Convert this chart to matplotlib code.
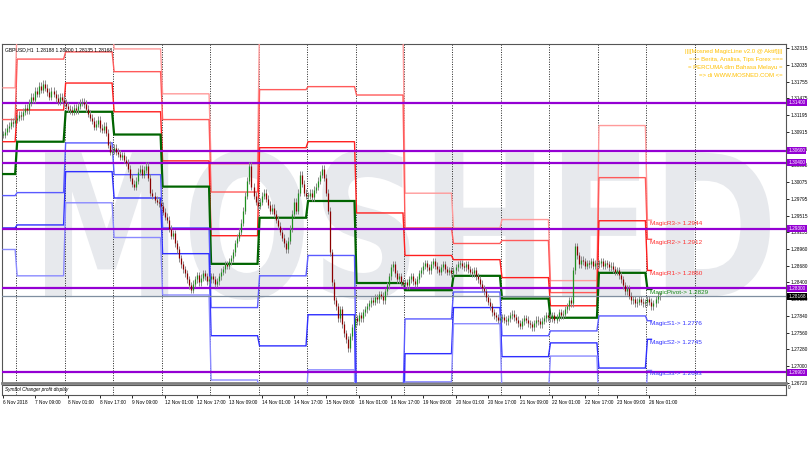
import matplotlib
matplotlib.use("Agg")
import matplotlib.pyplot as plt
from matplotlib.textpath import TextPath
from matplotlib.patches import PathPatch
from matplotlib.font_manager import FontProperties
from matplotlib.transforms import Affine2D, IdentityTransform, blended_transform_factory

# hourly closes, GBPUSD H1, 6 Nov 17:00 -> 26 Nov 06:00
closes = [
    1.3087, 1.3092, 1.3098, 1.3102, 1.3108, 1.3106, 1.3112,
    1.3115, 1.3120, 1.3118, 1.3125, 1.3132, 1.3128, 1.3140, 1.3150, 1.3145, 1.3160, 1.3155, 1.3168,
    1.3162, 1.3172, 1.3165, 1.3158, 1.3150, 1.3160, 1.3155, 1.3148, 1.3142, 1.3150, 1.3145, 1.3140,
    1.3135, 1.3130, 1.3128, 1.3125, 1.3132, 1.3128, 1.3135, 1.3140, 1.3142, 1.3138, 1.3130, 1.3122,
    1.3115, 1.3110, 1.3100, 1.3105, 1.3112, 1.3098, 1.3095, 1.3102, 1.3090, 1.3070, 1.3058, 1.3060,
    1.3065, 1.3058, 1.3055, 1.3050, 1.3052, 1.3045, 1.3040, 1.3030, 1.3015, 1.3005, 1.3000, 1.3010,
    1.3025, 1.3030, 1.3020, 1.3028, 1.3035, 1.3015, 1.2990, 1.2985, 1.2978, 1.2975, 1.2972, 1.2968,
    1.2958, 1.2950, 1.2945, 1.2930, 1.2918, 1.2922, 1.2905, 1.2895, 1.2880, 1.2870, 1.2862, 1.2855,
    1.2845, 1.2835, 1.2828, 1.2838, 1.2845, 1.2852, 1.2840, 1.2848, 1.2855, 1.2850, 1.2842, 1.2845,
    1.2850, 1.2845, 1.2838, 1.2842, 1.2850, 1.2858, 1.2862, 1.2870, 1.2868, 1.2875, 1.2880, 1.2890,
    1.2905, 1.2915, 1.2925, 1.2940, 1.2960, 1.2985, 1.3010, 1.3035, 1.3000, 1.2985, 1.2975, 1.2968,
    1.2975, 1.2985, 1.2990, 1.2980, 1.2970, 1.2960, 1.2965, 1.2955, 1.2945, 1.2935, 1.2925, 1.2915,
    1.2905, 1.2895, 1.2910, 1.2930, 1.2955, 1.2975, 1.2960, 1.2990, 1.3020, 1.3005, 1.2990, 1.2985,
    1.2985, 1.2990, 1.2982, 1.2995, 1.3000, 1.3010, 1.3020, 1.3030, 1.3015, 1.2990, 1.2960, 1.2890,
    1.2840, 1.2810, 1.2800, 1.2780, 1.2795, 1.2770, 1.2755, 1.2745, 1.2730, 1.2750, 1.2765, 1.2780,
    1.2775, 1.2785, 1.2780, 1.2790, 1.2795, 1.2800, 1.2805, 1.2810, 1.2808, 1.2815, 1.2812, 1.2820,
    1.2818, 1.2810, 1.2825, 1.2835, 1.2850, 1.2865, 1.2870, 1.2855, 1.2845, 1.2850, 1.2840, 1.2838,
    1.2840, 1.2835, 1.2845, 1.2850, 1.2842, 1.2838, 1.2845, 1.2855, 1.2860, 1.2868, 1.2872, 1.2865,
    1.2860, 1.2870, 1.2875, 1.2868, 1.2862, 1.2858, 1.2865, 1.2870, 1.2862, 1.2858, 1.2860, 1.2855,
    1.2860, 1.2865, 1.2870, 1.2872, 1.2868, 1.2865, 1.2870, 1.2862, 1.2858, 1.2855, 1.2860, 1.2850,
    1.2845, 1.2838, 1.2830, 1.2825, 1.2815, 1.2808, 1.2800, 1.2790, 1.2785, 1.2782, 1.2778, 1.2780,
    1.2782, 1.2778, 1.2775, 1.2780, 1.2785, 1.2788, 1.2782, 1.2778, 1.2772, 1.2768, 1.2775, 1.2780,
    1.2778, 1.2772, 1.2770, 1.2765, 1.2772, 1.2778, 1.2775, 1.2770, 1.2776, 1.2780, 1.2785, 1.2782,
    1.2780, 1.2785, 1.2778, 1.2782, 1.2790, 1.2785, 1.2788, 1.2795, 1.2800, 1.2810, 1.2805, 1.2860,
    1.2900, 1.2885, 1.2870, 1.2878, 1.2875, 1.2868, 1.2872, 1.2870, 1.2875, 1.2868, 1.2872, 1.2870,
    1.2872, 1.2875, 1.2868, 1.2872, 1.2870, 1.2865, 1.2868, 1.2862, 1.2858, 1.2860, 1.2852, 1.2845,
    1.2835, 1.2825, 1.2830, 1.2818, 1.2810, 1.2812, 1.2805, 1.2808, 1.2812, 1.2808, 1.2805, 1.2807,
    1.2812, 1.2808, 1.2800, 1.2805, 1.2812, 1.2818, 1.28168,
]

# first bar of each trading day (6 Nov partial, then 7..23 Nov, 26 Nov)
day_starts = [0, 7, 31, 55, 79, 103, 127, 151, 175, 199, 223, 247, 271, 295, 319]

# daily MagicLine levels, one value per day
r3 = [1.3165, 1.3267, 1.3274, 1.3230, 1.3155, 1.3038, 1.3279, 1.3265, 1.3270, 1.2989, 1.2931, 1.2945, 1.2843, 1.3102, 1.2944]
r2 = [1.3112, 1.3213, 1.3225, 1.3192, 1.3112, 1.2991, 1.3162, 1.3167, 1.3153, 1.2931, 1.2905, 1.2910, 1.2823, 1.3015, 1.2912]
r1 = [1.3075, 1.3128, 1.3173, 1.3125, 1.3043, 1.2918, 1.3065, 1.3075, 1.2956, 1.2885, 1.2878, 1.2848, 1.2801, 1.2943, 1.2860]
pv = [1.3021, 1.3075, 1.3125, 1.3087, 1.3000, 1.2871, 1.2948, 1.2976, 1.2839, 1.2827, 1.2851, 1.2813, 1.2781, 1.2856, 1.2829]
s1 = [1.2985, 1.2990, 1.3073, 1.3020, 1.2931, 1.2798, 1.2851, 1.2885, 1.2642, 1.2779, 1.2824, 1.2751, 1.2759, 1.2784, 1.2776]
s2 = [1.2931, 1.2936, 1.3025, 1.2981, 1.2888, 1.2751, 1.2734, 1.2786, 1.2525, 1.2721, 1.2798, 1.2716, 1.2739, 1.2697, 1.2745]
s3 = [1.2895, 1.2851, 1.2973, 1.2915, 1.2819, 1.2677, 1.2637, 1.2694, 1.2415, 1.2674, 1.2771, 1.2654, 1.2717, 1.2626, 1.2693]

level_names = ["MagicR3", "MagicR2", "MagicR1", "MagicPivot", "MagicS1", "MagicS2", "MagicS3"]

purple_levels = [1.3140, 1.3060, 1.3040, 1.2930, 1.2830, 1.2690]
purple_labels = ["1.31400", "1.30600", "1.30400", "1.29300", "1.28300", "1.26900"]
bid = 1.28168

ytick_vals = [1.26720, 1.27000, 1.27280, 1.27560, 1.27840, 1.28120, 1.28400, 1.28680, 1.28960, 1.29235,
              1.29515, 1.29795, 1.30075, 1.30355, 1.30635, 1.30915, 1.31195, 1.31475, 1.31755, 1.32035, 1.32315]

xtick_labels = ["6 Nov 2018", "7 Nov 09:00", "8 Nov 01:00", "8 Nov 17:00", "9 Nov 09:00",
                "12 Nov 01:00", "12 Nov 17:00", "13 Nov 09:00", "14 Nov 01:00", "14 Nov 17:00",
                "15 Nov 09:00", "16 Nov 01:00", "16 Nov 17:00", "19 Nov 09:00", "20 Nov 01:00",
                "20 Nov 17:00", "21 Nov 09:00", "22 Nov 01:00", "22 Nov 17:00", "23 Nov 09:00",
                "26 Nov 01:00"]

title_text = "GBPUSD,H1  1.28188 1.28200 1.28135 1.28168"
info_lines = ["|||[Mosned MagicLine v2.0 @ Aktif]|||",
              "=== Berita, Analisa, Tips Forex ===",
              "= PERCUMA dlm Bahasa Melayu =",
              "=> di WWW.MOSNED.COM <="]

W, H = 810, 450
SMALL = ["Liberation Sans", "DejaVu Sans"]
FS = 3.4

fig = plt.figure(figsize=(W / 100, H / 100), dpi=100)
fig.patch.set_facecolor("white")


def fx(px):
    return px / W


def fy(py):
    return 1 - py / H


ax = fig.add_axes([fx(2), fy(383), fx(786) - fx(2), fy(44) - fy(383)])
sub = fig.add_axes([fx(2), fy(395), fx(786) - fx(2), fy(385) - fy(395)])

ax.set_xlim(-0.5, 387.6)
ax.set_ylim(1.26720, 1.32382)
sub.set_xlim(-0.5, 387.6)
sub.set_ylim(0, 1)

# watermark
fp = FontProperties(family="DejaVu Sans", weight="bold")
tp = TextPath((0, 0), "MOSHED", prop=fp, size=100)
bb = tp.get_extents()
tr = Affine2D().translate(-bb.x0, -bb.y0).scale((770 - 45) / bb.width, (300 - 150) / bb.height).translate(45, H - 300)
wm = PathPatch(tr.transform_path(tp), facecolor="#e7e9ed", edgecolor="none", zorder=0)
wm.set_transform(IdentityTransform())
ax.add_patch(wm)

# day separators
for s in day_starts[1:] + [day_starts[-1] + 24]:
    ax.axvline(s - 0.5, color="#222222", lw=0.7, ls=(0, (1, 1.5)), zorder=1)
    sub.axvline(s - 0.5, color="#222222", lw=0.7, ls=(0, (1, 1.5)), zorder=1)

# candles
n = len(closes)
for i in range(n):
    o = closes[i - 1] if i > 0 else closes[0]
    c = closes[i]
    lo, hi = min(o, c), max(o, c)
    ax.vlines(i, lo - 0.0006, hi + 0.0006, color="#8a8a8a", lw=0.7, zorder=4)
    col = "#1f8f1f" if c >= o else "#8b0000"
    ax.vlines(i, lo, hi if hi - lo > 0.00005 else lo + 0.00005, color=col, lw=0.9, zorder=4.1)

# MagicLine steps
styles = [
    (r3, "#ff9a9a", 1.0), (r2, "#ff5a5a", 1.0), (r1, "#ff1f1f", 1.0),
    (pv, "#006400", 1.6),
    (s1, "#5a5aff", 1.0), (s2, "#2f2fff", 1.0), (s3, "#8a8aff", 1.0),
]
for vals, col, lw in styles:
    xs, ys = [], []
    for k, st in enumerate(day_starts):
        end = day_starts[k + 1] if k + 1 < len(day_starts) else st + 3
        xs += [max(st, -0.5), end - 1]
        ys += [vals[k], vals[k]]
    ax.plot(xs, ys, color=col, lw=lw, zorder=3, solid_joinstyle="miter")

# purple horizontal lines
for v in purple_levels:
    ax.axhline(v, color="#9400d3", lw=1.6, zorder=3.5)
ax.axhline(bid, color="#7f8fa0", lw=0.9, zorder=3.4)

# labels for current day levels
label_cols = ["#ff3030", "#ff3030", "#ff3030", "#1a8a1a", "#3030ff", "#3030ff", "#3030ff"]
for name, vals, col in zip(level_names, [r3, r2, r1, pv, s1, s2, s3], label_cols):
    ax.text(320.5, vals[-1] - 0.0001, f"{name}-> {vals[-1]:.4f}", color=col, fontsize=4.6,
            family=["Liberation Sans", "DejaVu Sans"], va="top", ha="left", zorder=6)

# axes styling
for a in (ax, sub):
    for sp in a.spines.values():
        sp.set_color("#555555")
        sp.set_linewidth(0.8)
ax.spines["bottom"].set_color("#808080")
ax.spines["bottom"].set_linewidth(2.0)
ax.set_xticks([])
ax.yaxis.tick_right()
ax.set_yticks(ytick_vals)
ax.set_yticklabels([f"{v:.5f}" for v in ytick_vals], family=SMALL, fontsize=FS)
ax.tick_params(axis="y", length=2, width=0.6, pad=1, colors="#000000")

trans = blended_transform_factory(ax.transAxes, ax.transData)
for v, lab in zip(purple_levels, purple_labels):
    ax.text(1.003, v, lab, transform=trans, fontsize=FS, family=SMALL, color="white", va="center", ha="left",
            bbox=dict(boxstyle="square,pad=0.25", fc="#9400d3", ec="none"), clip_on=False, zorder=10)
ax.text(1.003, bid, "1.28168", transform=trans, fontsize=FS, family=SMALL, color="white", va="center", ha="left",
        bbox=dict(boxstyle="square,pad=0.25", fc="#000000", ec="none"), clip_on=False, zorder=11)

ax.text(0.004, 0.99, title_text, transform=ax.transAxes, fontsize=3.6, family=SMALL, va="top", ha="left", zorder=7)
for j, line in enumerate(info_lines):
    ax.text(0.996, 0.985 - j * 0.0235, line, transform=ax.transAxes, fontsize=4.3, family=SMALL,
            color="#ffc000", va="top", ha="right", zorder=7)

sub.set_yticks([])
sub.text(0.004, 0.5, "Symbol Changer profit display", transform=sub.transAxes, fontsize=FS, family=SMALL,
         style="italic", va="center", ha="left")
sub.text(1.003, 0.75, "0", transform=sub.transAxes, fontsize=FS, family=SMALL, va="center", ha="left")

sub.set_xticks(range(0, 16 * len(xtick_labels), 16))
sub.set_xticklabels(xtick_labels, family=SMALL, fontsize=FS)
for lbl in sub.get_xticklabels():
    lbl.set_ha("left")
sub.tick_params(axis="x", length=2.5, width=0.6, pad=0.8)

fig.savefig("out.png", dpi=100, facecolor="white")
